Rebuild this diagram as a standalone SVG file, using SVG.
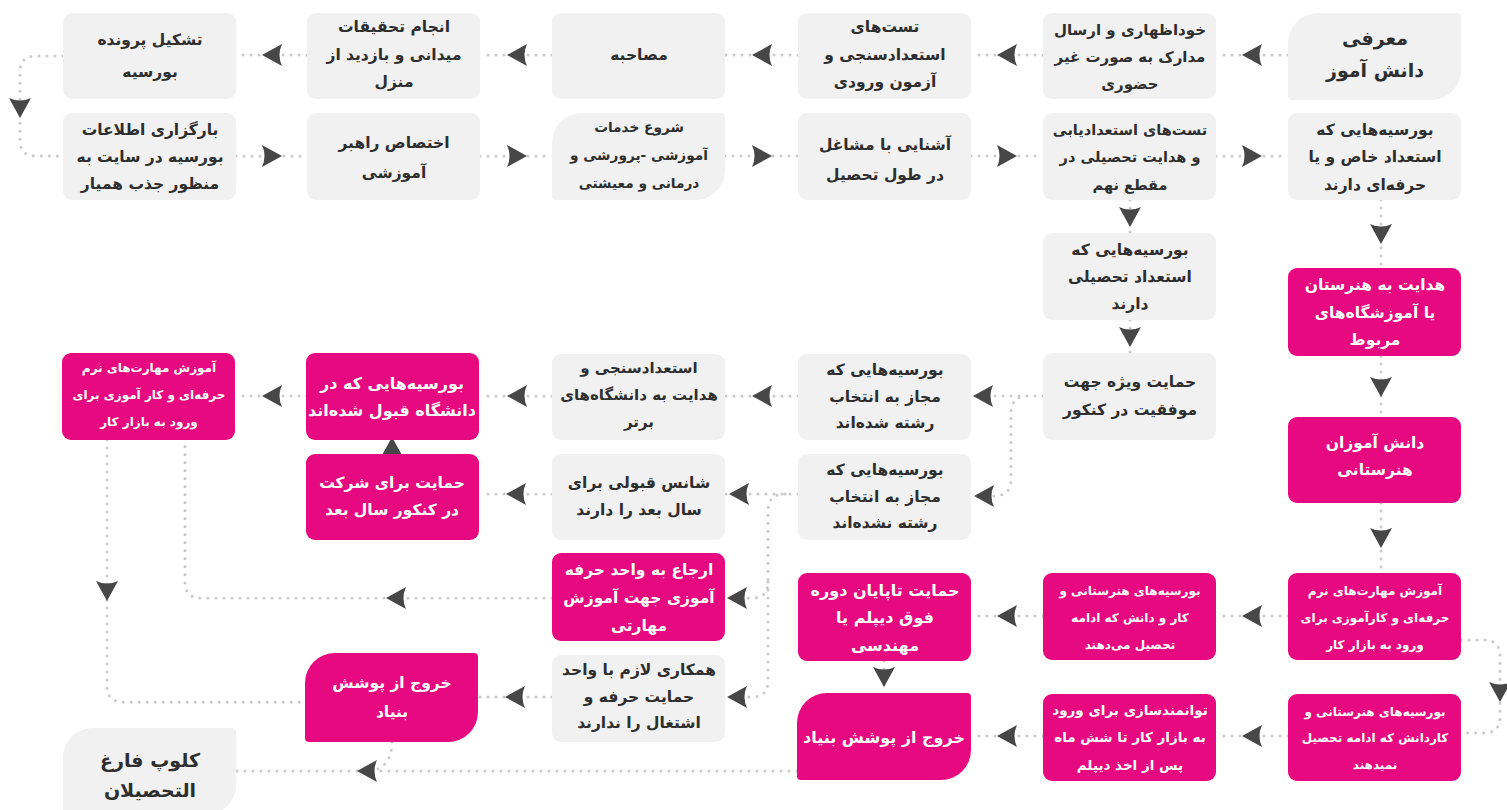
<svg xmlns="http://www.w3.org/2000/svg" xmlns:xlink="http://www.w3.org/1999/xlink" width="1507" height="810" viewBox="0 0 1507 810">
<style>
.g{fill:#f1f1f1}
.p{fill:#e6097f}
.t{font-family:"DejaVu Sans",sans-serif;font-size:15.5px;font-weight:bold;fill:#2e2e2e;text-anchor:middle;direction:rtl;dominant-baseline:central}
.w{fill:#fff}
.b{font-size:19px}
.s{font-size:12px}
.m{font-size:13.7px}
.l{font-size:16px}
.c{fill:none;stroke:#c9c9c9;stroke-width:3;stroke-linecap:round;stroke-dasharray:0 8}
.a{fill:#474747}
</style>
<defs>
<path id="ah" class="a" d="M10,0 L-10,-11 Q-5,0 -10,11 Z"/>
</defs>
<rect width="1507" height="810" fill="#fff"/>
<g id="connectors">
<path class="c" d="M1288,55 H1216 M1043,55 H971 M798,55 H725 M552,55 H480 M307,55 H236"/>
<path class="c" d="M63,56 H36 Q20,56 20,72 V140 Q20,156 36,156 H63"/>
<path class="c" d="M236,156 H307 M480,156 H552 M725,156 H798 M971,156 H1043 M1216,156 H1288"/>
<path class="c" d="M1130,200 V233 M1130,320 V353"/>
<path class="c" d="M1381,200 V268 M1381,356 V417 M1381,503 V573"/>
<path class="c" d="M1461,640 H1484 Q1500,640 1500,656 V717 Q1500,733 1484,733 H1461"/>
<path class="c" d="M1043,396 H971 M1043,396 H1028 Q1011,396 1011,413 V479 Q1011,496 994,496 H971"/>
<path class="c" d="M798,396 H725 M552,396 H480 M307,396 H236"/>
<path class="c" d="M798,494 H725 M785,494 Q768,494 768,511 V582 Q768,598 752,598 H725 M768,582 V681 Q768,697 752,697 H725"/>
<path class="c" d="M552,494 H480 M392,454 V440"/>
<path class="c" d="M107,440 V686 Q107,702 123,702 H305"/>
<path class="c" d="M552,598 H201 Q185,598 185,582 V440"/>
<path class="c" d="M552,697 H478 M884,661 V693"/>
<path class="c" d="M1288,616 H1216 M1043,616 H971 M1288,736 H1216 M1043,736 H971"/>
<path class="c" d="M797,771 H236 M392,742 Q392,766 372,771"/>
<use xlink:href="#ah" transform="translate(1252,55) rotate(180)"/>
<use xlink:href="#ah" transform="translate(1007,55) rotate(180)"/>
<use xlink:href="#ah" transform="translate(762,55) rotate(180)"/>
<use xlink:href="#ah" transform="translate(517,55) rotate(180)"/>
<use xlink:href="#ah" transform="translate(272,55) rotate(180)"/>
<use xlink:href="#ah" transform="translate(20,108) rotate(90)"/>
<use xlink:href="#ah" transform="translate(272,156)"/>
<use xlink:href="#ah" transform="translate(517,156)"/>
<use xlink:href="#ah" transform="translate(762,156)"/>
<use xlink:href="#ah" transform="translate(1007,156)"/>
<use xlink:href="#ah" transform="translate(1252,156)"/>
<use xlink:href="#ah" transform="translate(1130,217) rotate(90)"/>
<use xlink:href="#ah" transform="translate(1130,337) rotate(90)"/>
<use xlink:href="#ah" transform="translate(1381,234) rotate(90)"/>
<use xlink:href="#ah" transform="translate(1381,387) rotate(90)"/>
<use xlink:href="#ah" transform="translate(1381,538) rotate(90)"/>
<use xlink:href="#ah" transform="translate(1500,692) rotate(90)"/>
<use xlink:href="#ah" transform="translate(983,396) rotate(180)"/>
<use xlink:href="#ah" transform="translate(984,496) rotate(180)"/>
<use xlink:href="#ah" transform="translate(762,396) rotate(180)"/>
<use xlink:href="#ah" transform="translate(517,396) rotate(180)"/>
<use xlink:href="#ah" transform="translate(272,396) rotate(180)"/>
<use xlink:href="#ah" transform="translate(739,494) rotate(180)"/>
<use xlink:href="#ah" transform="translate(737,598) rotate(180)"/>
<use xlink:href="#ah" transform="translate(737,697) rotate(180)"/>
<use xlink:href="#ah" transform="translate(516,494) rotate(180)"/>
<use xlink:href="#ah" transform="translate(392,447) rotate(-90)"/>
<use xlink:href="#ah" transform="translate(107,591) rotate(90)"/>
<use xlink:href="#ah" transform="translate(396,598) rotate(180)"/>
<use xlink:href="#ah" transform="translate(515,697) rotate(180)"/>
<use xlink:href="#ah" transform="translate(884,677) rotate(90)"/>
<use xlink:href="#ah" transform="translate(1252,616) rotate(180)"/>
<use xlink:href="#ah" transform="translate(1007,616) rotate(180)"/>
<use xlink:href="#ah" transform="translate(1252,736) rotate(180)"/>
<use xlink:href="#ah" transform="translate(1007,736) rotate(180)"/>
<use xlink:href="#ah" transform="translate(367,771) rotate(180)"/>
</g>

<g id="n-f1"><path class="g" d="M1318,13 H1457 A4,4 0 0 1 1461,17 V70 A30,30 0 0 1 1431,100 H1292 A4,4 0 0 1 1288,96 V43 A30,30 0 0 1 1318,13 Z"/>
<text class="t b" x="1375"><tspan x="1375" y="38">معرفی</tspan><tspan x="1375" y="70">دانش آموز</tspan></text></g>
<g id="n-e1"><rect class="g" x="1043" y="13" width="173" height="86" rx="9"/>
<text class="t" x="1130" style="font-size:15px"><tspan x="1130" y="30">خوداظهاری و ارسال</tspan><tspan x="1130" y="57">مدارک به صورت غیر</tspan><tspan x="1130" y="84">حضوری</tspan></text></g>
<g id="n-d1"><rect class="g" x="798" y="13" width="173" height="86" rx="9"/>
<text class="t" x="885"><tspan x="885" y="27">تست&#8204;های</tspan><tspan x="885" y="55">استعدادسنجی و</tspan><tspan x="885" y="82">آزمون ورودی</tspan></text></g>
<g id="n-c1"><rect class="g" x="552" y="13" width="173" height="86" rx="9"/>
<text class="t" x="639" y="55">مصاحبه</text></g>
<g id="n-b1"><rect class="g" x="307" y="13" width="173" height="86" rx="9"/>
<text class="t" x="394"><tspan x="394" y="27">انجام تحقیقات</tspan><tspan x="394" y="55">میدانی و بازدید از</tspan><tspan x="394" y="82">منزل</tspan></text></g>
<g id="n-a1"><rect class="g" x="63" y="13" width="173" height="86" rx="9"/>
<text class="t" x="150"><tspan x="150" y="40">تشکیل پرونده</tspan><tspan x="150" y="72">بورسیه</tspan></text></g>

<g id="n-a2"><rect class="g" x="63" y="113" width="173" height="87" rx="9"/>
<text class="t" x="150"><tspan x="150" y="130">بارگزاری اطلاعات</tspan><tspan x="150" y="157">بورسیه در سایت به</tspan><tspan x="150" y="184">منظور جذب همیار</tspan></text></g>
<g id="n-b2"><rect class="g" x="307" y="113" width="173" height="87" rx="9"/>
<text class="t" x="394"><tspan x="394" y="143">اختصاص راهبر</tspan><tspan x="394" y="173">آموزشی</tspan></text></g>
<g id="n-c2"><path class="g" d="M582,113 H721 A4,4 0 0 1 725,117 V170 A30,30 0 0 1 695,200 H556 A4,4 0 0 1 552,196 V143 A30,30 0 0 1 582,113 Z"/>
<text class="t m" x="639"><tspan x="639" y="127">شروع خدمات</tspan><tspan x="639" y="155">آموزشی -پرورشی و</tspan><tspan x="639" y="183">درمانی و معیشتی</tspan></text></g>
<g id="n-d2"><rect class="g" x="798" y="113" width="173" height="87" rx="9"/>
<text class="t" x="885"><tspan x="885" y="145">آشنایی با مشاغل</tspan><tspan x="885" y="175">در طول تحصیل</tspan></text></g>
<g id="n-e2"><rect class="g" x="1043" y="113" width="173" height="87" rx="9"/>
<text class="t" x="1130" style="font-size:14.5px"><tspan x="1130" y="130">تست&#8204;های استعدادیابی</tspan><tspan x="1130" y="157">و هدایت تحصیلی در</tspan><tspan x="1130" y="185">مقطع نهم</tspan></text></g>
<g id="n-f2"><rect class="g" x="1288" y="113" width="173" height="87" rx="9"/>
<text class="t" x="1375"><tspan x="1375" y="130">بورسیه&#8204;هایی که</tspan><tspan x="1375" y="157">استعداد خاص و یا</tspan><tspan x="1375" y="185">حرفه&#8204;ای دارند</tspan></text></g>

<g id="n-e3"><rect class="g" x="1043" y="233" width="173" height="87" rx="9"/>
<text class="t" x="1130"><tspan x="1130" y="250">بورسیه&#8204;هایی که</tspan><tspan x="1130" y="277">استعداد تحصیلی</tspan><tspan x="1130" y="304">دارند</tspan></text></g>
<g id="n-e4"><rect class="g" x="1043" y="353" width="173" height="87" rx="9"/>
<text class="t" x="1130"><tspan x="1130" y="382">حمایت ویژه جهت</tspan><tspan x="1130" y="410">موفقیت در کنکور</tspan></text></g>
<g id="n-f3"><rect class="p" x="1288" y="268" width="173" height="88" rx="9"/>
<text class="t w" x="1375"><tspan x="1375" y="285">هدایت به هنرستان</tspan><tspan x="1375" y="313">یا آموزشگاه&#8204;های</tspan><tspan x="1375" y="340">مربوط</tspan></text></g>
<g id="n-f4"><rect class="p" x="1288" y="417" width="173" height="86" rx="9"/>
<text class="t w" x="1375"><tspan x="1375" y="443">دانش آموزان</tspan><tspan x="1375" y="470">هنرستانی</tspan></text></g>

<g id="n-d4"><rect class="g" x="798" y="354" width="173" height="86" rx="9"/>
<text class="t" x="885"><tspan x="885" y="370">بورسیه&#8204;هایی که</tspan><tspan x="885" y="397">مجاز به انتخاب</tspan><tspan x="885" y="423">رشته شده&#8204;اند</tspan></text></g>
<g id="n-c4"><rect class="g" x="552" y="354" width="173" height="86" rx="9"/>
<text class="t" x="639" style="font-size:15px"><tspan x="639" y="368">استعدادسنجی و</tspan><tspan x="639" y="395">هدایت به دانشگاه&#8204;های</tspan><tspan x="639" y="422">برتر</tspan></text></g>
<g id="n-b4"><rect class="p" x="306" y="353" width="173" height="87" rx="9"/>
<text class="t w l" x="392"><tspan x="392" y="383">بورسیه&#8204;هایی که در</tspan><tspan x="392" y="410">دانشگاه قبول شده&#8204;اند</tspan></text></g>
<g id="n-a4"><rect class="p" x="62" y="353" width="173" height="87" rx="9"/>
<text class="t w s" x="149"><tspan x="149" y="368">آموزش مهارت&#8204;های نرم</tspan><tspan x="149" y="395">حرفه&#8204;ای و کار آموزی برای</tspan><tspan x="149" y="422">ورود به بازار کار</tspan></text></g>

<g id="n-d5"><rect class="g" x="798" y="454" width="173" height="86" rx="9"/>
<text class="t" x="885"><tspan x="885" y="470">بورسیه&#8204;هایی که</tspan><tspan x="885" y="497">مجاز به انتخاب</tspan><tspan x="885" y="523">رشته نشده&#8204;اند</tspan></text></g>
<g id="n-c5"><rect class="g" x="552" y="454" width="173" height="86" rx="9"/>
<text class="t" x="639"><tspan x="639" y="483">شانس قبولی برای</tspan><tspan x="639" y="510">سال بعد را دارند</tspan></text></g>
<g id="n-b5"><rect class="p" x="306" y="454" width="173" height="86" rx="9"/>
<text class="t w" x="392"><tspan x="392" y="483">حمایت برای شرکت</tspan><tspan x="392" y="510">در کنکور سال بعد</tspan></text></g>

<g id="n-c6"><rect class="p" x="552" y="553" width="173" height="88" rx="9"/>
<text class="t w" x="639"><tspan x="639" y="570">ارجاع به واحد حرفه</tspan><tspan x="639" y="598">آموزی جهت آموزش</tspan><tspan x="639" y="626">مهارتی</tspan></text></g>
<g id="n-c7"><rect class="g" x="552" y="655" width="173" height="87" rx="9"/>
<text class="t" x="639"><tspan x="639" y="670">همکاری لازم با واحد</tspan><tspan x="639" y="697">حمایت حرفه و</tspan><tspan x="639" y="723">اشتغال را ندارند</tspan></text></g>
<g id="n-b7"><path class="p" d="M335,653 H474 A4,4 0 0 1 478,657 V712 A30,30 0 0 1 448,742 H309 A4,4 0 0 1 305,738 V683 A30,30 0 0 1 335,653 Z"/>
<text class="t w" x="392"><tspan x="392" y="683">خروج از پوشش</tspan><tspan x="392" y="712">بنیاد</tspan></text></g>
<g id="n-a7"><path class="g" d="M93,728 H232 A4,4 0 0 1 236,732 V785 A30,30 0 0 1 206,815 H67 A4,4 0 0 1 63,811 V758 A30,30 0 0 1 93,728 Z"/>
<text class="t b" x="150"><tspan x="150" y="760">کلوپ فارغ</tspan><tspan x="150" y="790">التحصیلان</tspan></text></g>

<g id="n-d6"><rect class="p" x="798" y="573" width="173" height="88" rx="9"/>
<text class="t w l" x="885"><tspan x="885" y="590">حمایت تاپایان دوره</tspan><tspan x="885" y="617">فوق دیپلم یا</tspan><tspan x="885" y="645">مهندسی</tspan></text></g>
<g id="n-d7"><path class="p" d="M827,693 H967 A4,4 0 0 1 971,697 V750 A30,30 0 0 1 941,780 H801 A4,4 0 0 1 797,776 V723 A30,30 0 0 1 827,693 Z"/>
<text class="t w l" x="884" y="737">خروج از پوشش بنیاد</text></g>
<g id="n-e6"><rect class="p" x="1043" y="573" width="173" height="87" rx="9"/>
<text class="t w s" x="1130"><tspan x="1130" y="591">بورسیه&#8204;های هنرستانی و</tspan><tspan x="1130" y="618">کار و دانش که ادامه</tspan><tspan x="1130" y="645">تحصیل می&#8204;دهند</tspan></text></g>
<g id="n-f6"><rect class="p" x="1288" y="573" width="173" height="87" rx="9"/>
<text class="t w s" x="1375"><tspan x="1375" y="591">آموزش مهارت&#8204;های نرم</tspan><tspan x="1375" y="618">حرفه&#8204;ای و کارآموزی برای</tspan><tspan x="1375" y="645">ورود به بازار کار</tspan></text></g>
<g id="n-e7"><rect class="p" x="1043" y="694" width="173" height="87" rx="9"/>
<text class="t w" x="1130" style="font-size:13.5px"><tspan x="1130" y="710">توانمندسازی برای ورود</tspan><tspan x="1130" y="737">به بازار کار تا شش ماه</tspan><tspan x="1130" y="765">پس از اخذ دیپلم</tspan></text></g>
<g id="n-f7"><rect class="p" x="1288" y="694" width="173" height="87" rx="9"/>
<text class="t w s" x="1375"><tspan x="1375" y="712">بورسیه&#8204;های هنرستانی و</tspan><tspan x="1375" y="738">کاردانش که ادامه تحصیل</tspan><tspan x="1375" y="765">نمیدهند</tspan></text></g>
</svg>
